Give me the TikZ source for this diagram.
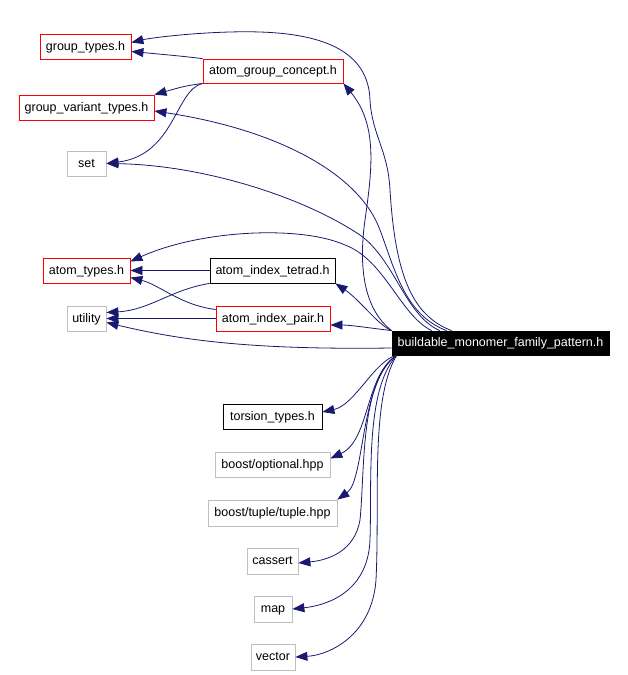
\documentclass[tikz,border=0pt]{standalone}
\usepackage{fontspec}
\setmainfont{Liberation Sans}
\usetikzlibrary{arrows.meta}
\definecolor{edgec}{HTML}{191970}
\definecolor{grayb}{HTML}{BFBFBF}
\begin{document}
\begin{tikzpicture}[x=1pt,y=-1pt,
  box/.style={draw, line width=0.8pt, minimum height=25pt, inner sep=0pt, text height=9pt, text depth=2pt, font=\fontsize{12.5}{14}\selectfont},
  redbox/.style={box, draw=red},
  graybox/.style={box, draw=grayb},
  blackbox/.style={box, draw=black},
  edge/.style={draw=edgec, line width=0.8pt, -{Triangle[length=12pt,width=9pt]}}]
\useasboundingbox (0,0) rectangle (627,675);

\node[redbox, minimum width=91pt] (gt) at (85.5,46.5) {group\_types.h};
\node[redbox, minimum width=140pt, minimum height=24pt] (agc) at (273,71) {atom\_group\_concept.h};
\node[redbox, minimum width=135pt] (gvt) at (86.5,107.5) {group\_variant\_types.h};
\node[graybox, minimum width=39pt] (set) at (86.5,163.5) {set};
\node[redbox, minimum width=87pt] (at) at (86.5,270.5) {atom\_types.h};
\node[blackbox, minimum width=125pt] (ait) at (272.5,270.5) {atom\_index\_tetrad.h};
\node[graybox, minimum width=39pt] (util) at (86.5,318.5) {utility};
\node[redbox, minimum width=114pt] (aip) at (273,318.5) {atom\_index\_pair.h};
\node[box, fill=black, text=white, minimum width=217pt, minimum height=24pt] (bmfp) at (500.5,343) {buildable\_monomer\_family\_pattern.h};
\node[blackbox, minimum width=99pt] (tt) at (272.5,416.5) {torsion\_types.h};
\node[graybox, minimum width=115pt] (bo) at (272.5,464.5) {boost/optional.hpp};
\node[graybox, minimum width=129pt, minimum height=26pt] (btt) at (272.5,513) {boost/tuple/tuple.hpp};
\node[graybox, minimum width=51pt, minimum height=26pt] (cas) at (272.5,561) {cassert};
\node[graybox, minimum width=38pt, minimum height=26pt] (map) at (273,609) {map};
\node[graybox, minimum width=44pt, minimum height=26pt] (vec) at (273,657) {vector};

% upper group
\draw[edge] ([xshift=60pt]bmfp.north west) .. controls (410,315) and (395,270) .. (390,190)
  .. controls (388,150) and (372,135) .. (370,100)
  .. controls (368,40) and (300,30) .. (230,32)
  .. controls (190,33) and (150,38) .. ([yshift=4pt]gt.east);
\draw[edge] (agc.north west) .. controls (180,56) .. ([yshift=-5pt]gt.east);
\draw[edge] (agc.south west) .. controls (185,86) .. (gvt.north east);
\draw[edge] (agc.south west) .. controls (175,90) and (175,155) .. (set.east);
\draw[edge] (bmfp.north west) .. controls (365,310) and (358,270) .. (365,220)
  .. controls (372,170) and (378,125) .. (agc.south east);
\draw[edge] ([xshift=55pt]bmfp.north west) .. controls (405,315) and (395,270) .. (380,230)
  .. controls (360,175) and (280,130) .. ([yshift=-3.5pt]gvt.east);
\draw[edge] ([xshift=48pt]bmfp.north west) .. controls (405,315) and (395,260) .. (360,235)
  .. controls (300,195) and (200,165) .. (set.east);
\draw[edge] ([xshift=40pt]bmfp.north west) .. controls (400,315) and (385,260) .. (345,245)
  .. controls (300,225) and (200,230) .. ([yshift=9pt]at.east);
\draw[edge] (ait.west) -- (at.east);
\draw[edge] (ait.south west) .. controls (170,290) and (150,310) .. ([yshift=6pt]util.east);
\draw[edge] ([yshift=9pt]aip.west) .. controls (180,305) and (160,285) .. ([yshift=-7pt]at.east);
\draw[edge] (aip.west) -- (util.east);
\draw[edge] ([yshift=-5pt]bmfp.west) .. controls (250,350) and (180,340) .. ([yshift=-4pt]util.east);
\draw[edge] (bmfp.north west) .. controls (378,325) and (360,300) .. (ait.south east);
\draw[edge] (bmfp.north west) .. controls (370,328) and (350,325) .. ([yshift=-6.5pt]aip.east);

% lower group
\draw[edge] ([xshift=5pt]bmfp.south west) .. controls (375,360) and (355,405) .. ([yshift=4.5pt]tt.east);
\draw[edge] ([xshift=5pt]bmfp.south west) .. controls (365,375) and (370,440) .. ([yshift=6pt]bo.east);
\draw[edge] ([xshift=5pt]bmfp.south west) .. controls (360,380) and (365,480) .. (btt.north east);
\draw[edge] ([xshift=5pt]bmfp.south west) .. controls (360,380) and (365,470) .. (360,520)
  .. controls (355,550) and (330,560) .. ([yshift=-2pt]cas.east);
\draw[edge] ([xshift=5pt]bmfp.south west) .. controls (365,390) and (372,480) .. (370,540)
  .. controls (368,590) and (330,605) .. (map.east);
\draw[edge] ([xshift=5pt]bmfp.south west) .. controls (370,400) and (380,500) .. (376,580)
  .. controls (372,635) and (330,655) .. (vec.east);
\end{tikzpicture}
\end{document}
